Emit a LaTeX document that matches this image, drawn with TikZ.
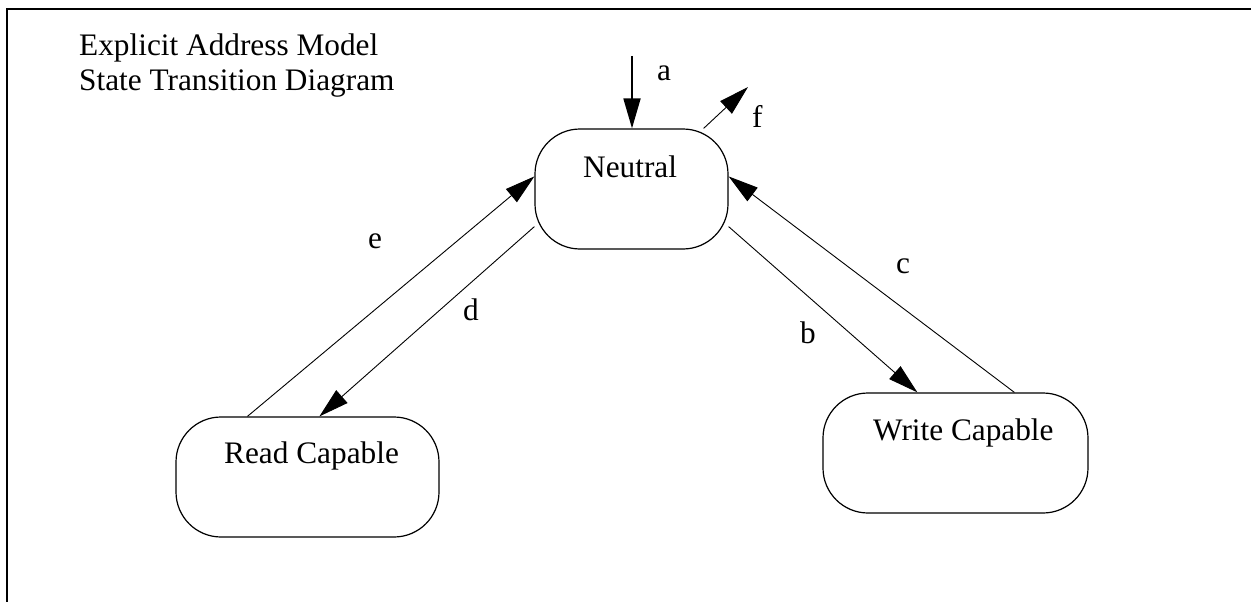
\documentclass[tikz,border=0pt]{standalone}
\usepackage{fontspec}
\setmainfont{Liberation Serif}
\usetikzlibrary{arrows.meta}
\begin{document}
\begin{tikzpicture}[x=1pt,y=-1pt,
  statebox/.style={draw,line width=1.2pt,rounded corners=45pt,minimum width=193pt,minimum height=120pt,inner sep=0pt},
  txt/.style={inner sep=0pt,anchor=base west,font=\fontsize{31.3}{35}\selectfont},
  conn/.style={line width=0.9pt,-{Triangle[length=30pt,width=17pt]}},
  frame/.style={line width=1.2pt}]
\useasboundingbox (0,0) rectangle (1251,602);
\draw[frame] (7,602) -- (7,9) -- (1251,9);
\node[txt] (t1) at (79,56) {Explicit Address Model};
\node[txt] (t2) at (79,91) {State Transition Diagram};
\node[statebox] (n) at (631.5,189) {};
\node[statebox,minimum width=263pt] (r) at (307.5,477) {};
\node[statebox,minimum width=265pt] (w) at (955.5,453) {};
\node[txt] (nt) at (583,177) {Neutral};
\node[txt] (rt) at (224,463) {Read Capable};
\node[txt] (wt) at (873,440) {Write Capable};
\coordinate (astart) at (632,56);
\coordinate (fend) at (748,87);
\draw[conn,line width=1.8pt] (astart) -- ([xshift=0.5pt]n.north);
\draw[conn] ([xshift=-25pt]n.north east) -- (fend);
\draw[conn] ([xshift=72pt]r.north west) -- ([yshift=-48pt]n.north west);
\draw[conn] ([yshift=23pt]n.south west) -- ([xshift=144pt]r.north west);
\draw[conn] ([yshift=23pt]n.south east) -- ([xshift=95pt]w.north west);
\draw[conn] ([xshift=192pt]w.north west) -- ([yshift=-48pt]n.north east);
\node[txt] (la) at (657,81) {a};
\node[txt] (lf) at (752,128) {f};
\node[txt] (le) at (368,248) {e};
\node[txt] (ld) at (463,320) {d};
\node[txt] (lc) at (896,273) {c};
\node[txt] (lb) at (800,343) {b};
\end{tikzpicture}
\end{document}
